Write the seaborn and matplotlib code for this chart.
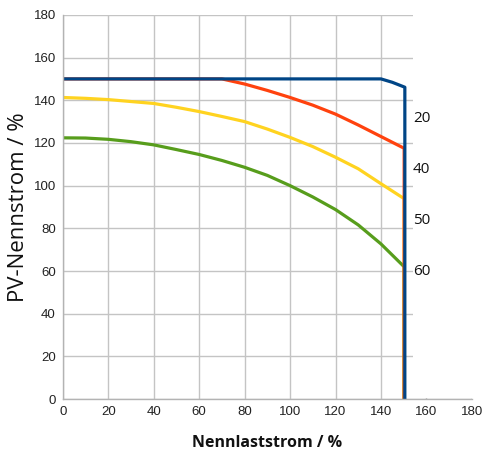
import matplotlib
matplotlib.use("Agg")
import matplotlib.pyplot as plt
import pandas as pd
import seaborn as sns

# curves (x = Nennlaststrom %, y = PV-Nennstrom %)
x_20 = [0, 70, 80, 90, 100, 110, 120, 130, 140, 150.2, 150.2]
y_20 = [150, 150, 147.6, 144.6, 141.3, 137.7, 133.5, 128.4, 123.0, 117.5, 0]

x_40 = [0, 10, 20, 30, 40, 50, 60, 70, 80, 90, 100, 110, 120, 130, 140, 150.2, 150.2]
y_40 = [141.3, 140.9, 140.3, 139.4, 138.5, 136.7, 134.7, 132.4, 130.0, 126.5,
        122.6, 118.3, 113.3, 107.9, 100.9, 93.9, 0]

x_50 = [0, 10, 20, 30, 40, 50, 60, 70, 80, 90, 100, 110, 120, 130, 140, 150.2, 150.2]
y_50 = [122.4, 122.3, 121.7, 120.6, 119.1, 116.9, 114.6, 111.8, 108.6, 104.8,
        100.0, 94.7, 88.8, 81.6, 72.7, 62.0, 0]

x_60 = [0, 140, 145, 150.5, 150.5]
y_60 = [150, 150, 148.4, 146.1, 0]

series = ["20", "40", "50", "60"]
label_y = [131.3, 107.4, 83.9, 60.0]

df = pd.concat([
    pd.DataFrame({"x": x_20, "y": y_20, "s": "20"}),
    pd.DataFrame({"x": x_40, "y": y_40, "s": "40"}),
    pd.DataFrame({"x": x_50, "y": y_50, "s": "50"}),
    pd.DataFrame({"x": x_60, "y": y_60, "s": "60"}),
], ignore_index=True)

sns.set_style("whitegrid", {"grid.color": "#c4c4c4", "axes.edgecolor": "#b3b3b3"})
plt.rcParams["font.family"] = ["Liberation Sans", "DejaVu Sans"]

fig = plt.figure(figsize=(4.83, 4.5), dpi=100)
ax = fig.add_axes([0.130, 0.113, 0.847, 0.854])

# draw order so the blue line sits on top
for name, col in zip(["40", "50", "20", "60"], ["#ffd320", "#579d1c", "#ff420e", "#004586"]):
    sub = df[df["s"] == name]
    sns.lineplot(data=sub, x="x", y="y", sort=False, estimator=None,
                 color=col, linewidth=2.3, ax=ax, legend=False,
                 solid_joinstyle="round")

ax.set_xlim(0, 180)
ax.set_ylim(0, 180)
ax.set_xticks(range(0, 181, 20))
ax.set_yticks(range(0, 181, 20))
ax.grid(True, color="#c4c4c4", linewidth=1.0)
ax.set_axisbelow(True)

# the label column covers the grid on the right side
ax.axvspan(154, 180, ymin=0.003, ymax=1.0, facecolor="white", edgecolor="none", zorder=1)

for sp in ["top", "right"]:
    ax.spines[sp].set_visible(False)
for sp in ["left", "bottom"]:
    ax.spines[sp].set_color("#b3b3b3")
    ax.spines[sp].set_linewidth(1.0)

ax.tick_params(axis="both", which="major", length=3, width=1, color="#b3b3b3",
               labelsize=9.5, labelcolor="#222222", pad=2)

for s, yy in zip(series, label_y):
    ax.text(154, yy, s, fontsize=11, family="Open Sans", color="#111111",
            va="center", ha="left", zorder=5)

ax.set_xlabel("Nennlaststrom / %", fontsize=11.5, fontweight="bold",
              family="Open Sans", color="#111111", labelpad=12)
ax.set_ylabel("PV-Nennstrom / %", fontsize=16, family="Open Sans",
              color="#111111", labelpad=3)

plt.savefig("out.png", dpi=100)
